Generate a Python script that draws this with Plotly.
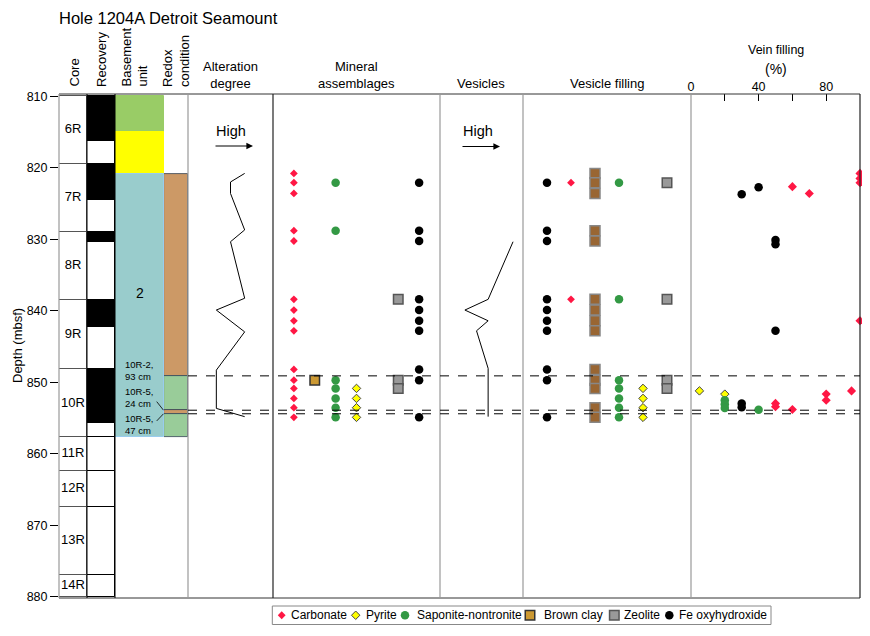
import plotly.graph_objects as go

# ---------------- figure geometry (layout constants) ----------------
# The page places the figure 8 px in from the window's top-left corner (body margin),
# so the figure is 8 px smaller and all screen-pixel positions are shifted by OFF.
OFF = 8
W, H = 870 - OFF, 636 - OFF
ML, MR, MT, MB = 59 - OFF, 10, 94 - OFF, 10
PW, PH = W - ML - MR, H - MT - MB
MAIN_BOTTOM = 598          # screen row of the bottom of the depth panels
LEG_BOX = (272.3, 771.0, 606.0, 624.5)   # legend box left, right, top, bottom (screen px)


def xp(px):
    return (px - OFF - ML) / PW


def yp(py):
    return (H - MB - (py - OFF)) / PH


EDGES = [59, 87, 115, 164, 188, 273, 440, 523, 691, 860]
FONT = "Liberation Sans, Arial, Helvetica, sans-serif"

# ---------------- data ----------------
core_names = ["6R", "7R", "8R", "9R", "10R", "11R", "12R", "13R", "14R"]
core_top = [810.0, 819.5, 829.0, 838.5, 848.2, 857.7, 862.4, 867.4, 876.9]
core_bottom = [819.5, 829.0, 838.5, 848.2, 857.7, 862.4, 867.4, 876.9, 880.0]
recovered_m = [6.3, 5.0, 1.4, 3.8, 7.5, 0.0, 0.0, 0.0, 0.0]

unit_top = [810.0, 815.0, 820.9]
unit_bottom = [815.0, 820.9, 857.7]
unit_label_depth = 837.5

redox_top = [820.9, 849.1, 853.9, 854.4]
redox_bottom = [849.1, 853.9, 854.4, 857.7]
redox_state = ["oxidized", "reduced", "oxidized", "reduced"]

boundary_depths = [849.1, 853.9, 854.4]
boundary_labels = ["10R-2,<br>93 cm", "10R-5,<br>24 cm", "10R-5,<br>47 cm"]

alteration_depth = [820.8, 822.0, 823.6, 828.7, 830.35, 838.25, 839.9, 842.95, 848.3, 853.65, 854.8]
alteration_degree = [4, 3, 3, 4, 3, 4, 2, 4, 2, 2, 4]

vesicle_depth = [830.35, 838.4, 839.9, 841.4, 842.8, 848.05, 854.8]
vesicle_amount = [88, 58, 30, 58, 44, 58, 58]

# Mineral assemblages (depths where each mineral was observed)
min_carbonate = [820.8, 822.1, 823.6, 828.8, 830.25, 838.4, 839.9, 841.4, 842.8,
                 848.2, 849.7, 850.85, 852.25, 853.55, 854.9]
min_pyrite = [850.85, 852.25, 853.55, 854.9]
min_saponite = [822.1, 828.8, 849.7, 850.85, 852.25, 853.55, 854.9]
min_brownclay = [849.7]
min_zeolite = [838.4, 849.7, 850.85]
min_feoxy = [822.1, 828.8, 830.25, 838.4, 839.9, 841.4, 842.8, 848.2, 849.7, 854.9]

# Vesicle filling
vf_feoxy = [822.1, 828.8, 830.25, 838.4, 839.9, 841.4, 842.8, 848.2, 849.7, 854.9]
vf_carbonate = [822.1, 838.4]
vf_brownclay = [820.8, 822.1, 823.6, 828.8, 830.25, 838.4, 839.9, 841.4, 842.8,
                848.2, 849.7, 850.85, 853.55, 854.9]
vf_saponite = [822.1, 838.4, 849.7, 850.85, 852.25, 853.55, 854.9]
vf_pyrite = [850.85, 852.25, 853.55, 854.9]
vf_zeolite = [822.1, 838.4, 849.7, 850.85]

# Vein filling (%)
vein_carb_depth = [820.8, 821.5, 822.1, 822.65, 823.6, 841.4, 851.2, 851.65, 852.5, 852.95, 853.4, 853.8]
vein_carb_pct = [100, 100, 100, 60, 70, 100, 95, 80, 80, 50, 50, 60]
vein_feoxy_depth = [822.75, 823.7, 830.1, 830.7, 842.8, 852.95, 853.5]
vein_feoxy_pct = [40, 30, 50, 50, 50, 30, 30]
vein_pyrite_depth = [851.2, 851.65]
vein_pyrite_pct = [5, 20]
vein_sap_depth = [852.5, 853.05, 853.6, 853.85]
vein_sap_pct = [20, 20, 20, 40]

vein_ticks = [0, 20, 40, 60, 80, 100]
vein_ticktext = ["0", "", "40", "", "80", ""]
depth_ticks = [810, 820, 830, 840, 850, 860, 870, 880]

legend_names = ["Carbonate", "Pyrite", "Saponite-nontronite", "Brown clay", "Zeolite", "Fe oxyhydroxide"]

# ---------------- styles ----------------
STY = {
    "Carbonate": dict(symbol="diamond", color="#FF1744", size=6, line=dict(color="#FF1744", width=0)),
    "Pyrite": dict(symbol="diamond", color="#FFFF00", size=6.5, line=dict(color="#444444", width=1)),
    "Saponite-nontronite": dict(symbol="circle", color="#339944", size=8.5, line=dict(color="#339944", width=0)),
    "Brown clay": dict(symbol="square", color="#CC9933", size=9.5, line=dict(color="#333333", width=1.5)),
    "Zeolite": dict(symbol="square", color="#999999", size=9.5, line=dict(color="#555555", width=1.5)),
    "Fe oxyhydroxide": dict(symbol="circle", color="#000000", size=8.5, line=dict(color="#000000", width=0)),
}
VF_BROWN = dict(symbol="square", color="#996633", size=10, line=dict(color="#888888", width=1.5))
LEG_SYMBOL_OFFSET = [9.4, 83.4, 132.7, 257.7, 342.0, 397.0]   # layout of custom legend (px)
LEG_TEXT_OFFSET = [17.0, 92.0, 142.7, 269.4, 349.4, 404.4]

fig = go.Figure()

# ---------------- core column ----------------
core_len = [b - t for t, b in zip(core_top, core_bottom)]
fig.add_trace(go.Bar(x=[0] * len(core_top), y=core_len, base=core_top, width=1,
                     marker=dict(color="white", line=dict(color="#555555", width=1)),
                     xaxis="x", yaxis="y", showlegend=False, hoverinfo="skip"))
core_mid = [(t + b) / 2 for t, b in zip(core_top, core_bottom)]
fig.add_trace(go.Scatter(x=[0] * len(core_mid), y=core_mid, text=core_names, mode="text",
                         textfont=dict(family=FONT, size=13, color="black"),
                         xaxis="x", yaxis="y", showlegend=False, hoverinfo="skip"))

# ---------------- recovery ----------------
fig.add_trace(go.Bar(x=[0] * len(core_top), y=core_len, base=core_top, width=1,
                     marker=dict(color="white", line=dict(color="black", width=1)),
                     xaxis="x2", yaxis="y", showlegend=False, hoverinfo="skip"))
fig.add_trace(go.Bar(x=[0] * len(core_top), y=recovered_m, base=core_top, width=1,
                     marker=dict(color="black", line=dict(color="black", width=1)),
                     xaxis="x2", yaxis="y", showlegend=False, hoverinfo="skip"))

# ---------------- basement unit ----------------
fig.add_trace(go.Bar(x=[0] * len(unit_top), y=[b - t for t, b in zip(unit_top, unit_bottom)],
                     base=unit_top, width=1,
                     marker=dict(color=["#99CC66", "#FFFF00", "#99CCCC"],
                                 line=dict(color=["#99CC66", "#FFFF00", "#99CCEE"], width=1)),
                     xaxis="x3", yaxis="y", showlegend=False, hoverinfo="skip"))

# ---------------- redox ----------------
redox_col = {"oxidized": "#CC9966", "reduced": "#99CC99"}
fig.add_trace(go.Bar(x=[0] * len(redox_top), y=[b - t for t, b in zip(redox_top, redox_bottom)],
                     base=redox_top, width=1,
                     marker=dict(color=[redox_col[s] for s in redox_state],
                                 line=dict(color="#334455", width=0.8)),
                     xaxis="x4", yaxis="y", showlegend=False, hoverinfo="skip"))

# ---------------- alteration degree ----------------
fig.add_trace(go.Scatter(x=alteration_degree, y=alteration_depth, mode="lines",
                         line=dict(color="black", width=1), xaxis="x5", yaxis="y",
                         showlegend=False, hoverinfo="skip"))

# ---------------- vesicles ----------------
fig.add_trace(go.Scatter(x=vesicle_amount, y=vesicle_depth, mode="lines",
                         line=dict(color="black", width=1), xaxis="x7", yaxis="y",
                         showlegend=False, hoverinfo="skip"))

# ---------------- mineral assemblages ----------------
min_cols = {"Carbonate": 1, "Brown clay": 2, "Saponite-nontronite": 3, "Pyrite": 4,
            "Zeolite": 6, "Fe oxyhydroxide": 7}
min_data = [("Carbonate", min_carbonate), ("Pyrite", min_pyrite),
            ("Saponite-nontronite", min_saponite), ("Brown clay", min_brownclay),
            ("Zeolite", min_zeolite), ("Fe oxyhydroxide", min_feoxy)]
for name, depths in min_data:
    fig.add_trace(go.Scatter(x=[min_cols[name]] * len(depths), y=depths, mode="markers",
                             marker=STY[name], name=name,
                             xaxis="x6", yaxis="y", showlegend=False, hoverinfo="skip"))

# ---------------- vesicle filling ----------------
vf_cols = {"Fe oxyhydroxide": 1, "Carbonate": 2, "Brown clay": 3, "Saponite-nontronite": 4,
           "Pyrite": 5, "Zeolite": 6}
vf_data = [("Fe oxyhydroxide", vf_feoxy), ("Carbonate", vf_carbonate), ("Brown clay", vf_brownclay),
           ("Saponite-nontronite", vf_saponite), ("Pyrite", vf_pyrite), ("Zeolite", vf_zeolite)]
for name, depths in vf_data:
    mk = VF_BROWN if name == "Brown clay" else STY[name]
    fig.add_trace(go.Scatter(x=[vf_cols[name]] * len(depths), y=depths, mode="markers",
                             marker=mk, name=name, xaxis="x8", yaxis="y",
                             showlegend=False, hoverinfo="skip"))

# ---------------- vein filling ----------------
vein_data = [("Carbonate", vein_carb_pct, vein_carb_depth, 7),
             ("Fe oxyhydroxide", vein_feoxy_pct, vein_feoxy_depth, 8.5),
             ("Pyrite", vein_pyrite_pct, vein_pyrite_depth, 6.5),
             ("Saponite-nontronite", vein_sap_pct, vein_sap_depth, 8.5)]
for name, pct, depths, sz in vein_data:
    mk = dict(STY[name])
    mk["size"] = sz
    fig.add_trace(go.Scatter(x=pct, y=depths, mode="markers", marker=mk, name=name,
                             xaxis="x9", yaxis="y", showlegend=False, hoverinfo="skip",
                             cliponaxis=False))

# ---------------- custom legend (own small axis) ----------------
for name, off in zip(legend_names, LEG_SYMBOL_OFFSET):
    fig.add_trace(go.Scatter(x=[off], y=[0.5], mode="markers", marker=STY[name], name=name,
                             xaxis="x10", yaxis="y2", showlegend=False, hoverinfo="skip",
                             cliponaxis=False))

# ---------------- axes ----------------
main_ydomain = [yp(MAIN_BOTTOM), 1]
hidden = dict(visible=False, fixedrange=True)
ranges = [[-0.5, 0.5], [-0.5, 0.5], [-0.5, 0.5], [-0.5, 0.5], [0, 6], [0, 8], [0, 100], [0, 7], [0, 100]]
layout_axes = {}
for i in range(9):
    key = "xaxis" if i == 0 else "xaxis%d" % (i + 1)
    ax = dict(domain=[xp(EDGES[i]), xp(EDGES[i + 1])], range=ranges[i], anchor="y")
    if i < 8:
        ax.update(hidden)
    layout_axes[key] = ax

layout_axes["xaxis9"].update(dict(side="top", showline=False, showgrid=False, zeroline=False,
                                  ticks="inside", ticklen=7, tickwidth=1, tickcolor="black",
                                  tickvals=vein_ticks, ticktext=vein_ticktext,
                                  tickfont=dict(family=FONT, size=12.5, color="black")))
leg_w = LEG_BOX[1] - LEG_BOX[0]
layout_axes["xaxis10"] = dict(domain=[xp(LEG_BOX[0]), xp(LEG_BOX[1])], range=[0, leg_w],
                              anchor="y2", **hidden)
yaxis2 = dict(domain=[yp(LEG_BOX[3]), yp(LEG_BOX[2])], range=[0, 1], anchor="x10", **hidden)

yaxis = dict(domain=main_ydomain, range=[880.15, 809.7], anchor="x", tickvals=depth_ticks,
             ticks="outside", ticklen=8, tickwidth=1, tickcolor="black", showgrid=False,
             zeroline=False, showline=False,
             tickfont=dict(family=FONT, size=12.5, color="black"))

# ---------------- shapes ----------------
shapes = []
shapes.append(dict(type="line", xref="paper", yref="y domain", x0=0, x1=1, y0=1, y1=1,
                   line=dict(color="#333333", width=1)))
shapes.append(dict(type="line", xref="paper", yref="y domain", x0=0, x1=1, y0=0, y1=0,
                   line=dict(color="#333333", width=1)))
vcolors = {59: "#999999", 87: "black", 115: "black", 188: "#999999", 273: "#222222",
           440: "#999999", 523: "#999999", 691: "#999999", 860: "#222222"}
for px, c in vcolors.items():
    shapes.append(dict(type="line", xref="paper", yref="y domain", x0=xp(px), x1=xp(px), y0=0, y1=1,
                       line=dict(color=c, width=1.2 if c != "black" else 1)))
for d in boundary_depths:
    shapes.append(dict(type="line", xref="paper", yref="y", x0=xp(188), x1=1, y0=d, y1=d,
                       line=dict(color="black", width=1, dash="dash")))
# leader lines from labels to boundaries
shapes.append(dict(type="line", xref="paper", yref="y", x0=xp(156.7), x1=xp(163.5),
                   y0=boundary_depths[1] - 1.2, y1=boundary_depths[1], line=dict(color="black", width=0.8)))
shapes.append(dict(type="line", xref="paper", yref="y", x0=xp(156.7), x1=xp(163.5),
                   y0=boundary_depths[2] + 1.0, y1=boundary_depths[2], line=dict(color="black", width=0.8)))
# legend frame
shapes.append(dict(type="rect", xref="x10 domain", yref="y2 domain", x0=0, x1=1, y0=0, y1=1,
                   line=dict(color="#888888", width=1), fillcolor="rgba(0,0,0,0)"))

# ---------------- annotations ----------------
ann = []


def txt(text, x, y, size=13, xanchor="center", yanchor="middle", angle=0, align="center", pad=1):
    ann.append(dict(text=text, x=xp(x), y=yp(y), xref="paper", yref="paper", showarrow=False,
                    xanchor=xanchor, yanchor=yanchor, textangle=angle, align=align, borderpad=pad,
                    font=dict(family=FONT, size=size, color="black")))


txt("Hole 1204A Detroit Seamount", 58, 8.5, size=16.5, xanchor="left", yanchor="top", pad=0)
txt("Core", 73.5, 89, angle=-90, yanchor="bottom")
txt("Recovery", 101.5, 89, angle=-90, yanchor="bottom")
txt("Basement<br>unit", 134, 89, angle=-90, yanchor="bottom", align="left")
txt("Redox<br>condition", 176, 89, angle=-90, yanchor="bottom", align="left")
txt("Alteration<br>degree", 230.5, 75)
txt("Mineral<br>assemblages", 356.5, 75)
txt("Vesicles", 481.5, 83)
txt("Vesicle filling", 607, 83)
txt("Vein filling", 775.5, 50, size=12.5)
txt("(%)", 775.5, 69, size=14)
txt("Depth (mbsf)", 8.5, 346, angle=-90, xanchor="left", pad=0)

# High arrows
for cx, xh, yy in [(231, 253, 146), (478, 500, 146.5)]:
    txt("High", cx, 131, size=14.5)
    ann.append(dict(x=xp(xh), y=yp(yy), xref="paper", yref="paper", ax=-39, ay=0,
                    showarrow=True, arrowhead=2, arrowsize=1.1, arrowwidth=1.2,
                    arrowcolor="black", text=""))

# basement unit label
ann.append(dict(text="2", x=0, y=unit_label_depth, xref="x3", yref="y", showarrow=False,
                font=dict(family=FONT, size=14, color="black")))

# sample labels
for lab, yc in zip(boundary_labels, [370.5, 397.5, 424.5]):
    ann.append(dict(text=lab, x=xp(139.5), y=yp(yc), xref="paper", yref="paper", showarrow=False,
                    xanchor="center", yanchor="middle", align="left", borderpad=0,
                    font=dict(family=FONT, size=9.5, color="black")))

# legend texts
for name, off in zip(legend_names, LEG_TEXT_OFFSET):
    ann.append(dict(text=name, x=off, y=0.5, xref="x10", yref="y2", showarrow=False,
                    xanchor="left", yanchor="middle",
                    font=dict(family=FONT, size=12, color="black")))

fig.update_layout(
    width=W, height=H,
    margin=dict(l=ML, r=MR, t=MT, b=MB, pad=0, autoexpand=False),
    paper_bgcolor="white", plot_bgcolor="white",
    barmode="overlay", bargap=0,
    yaxis=yaxis, yaxis2=yaxis2,
    shapes=shapes, annotations=ann,
    font=dict(family=FONT, size=12, color="black"),
    showlegend=False,
    **layout_axes,
)

fig.write_html("out.html")
